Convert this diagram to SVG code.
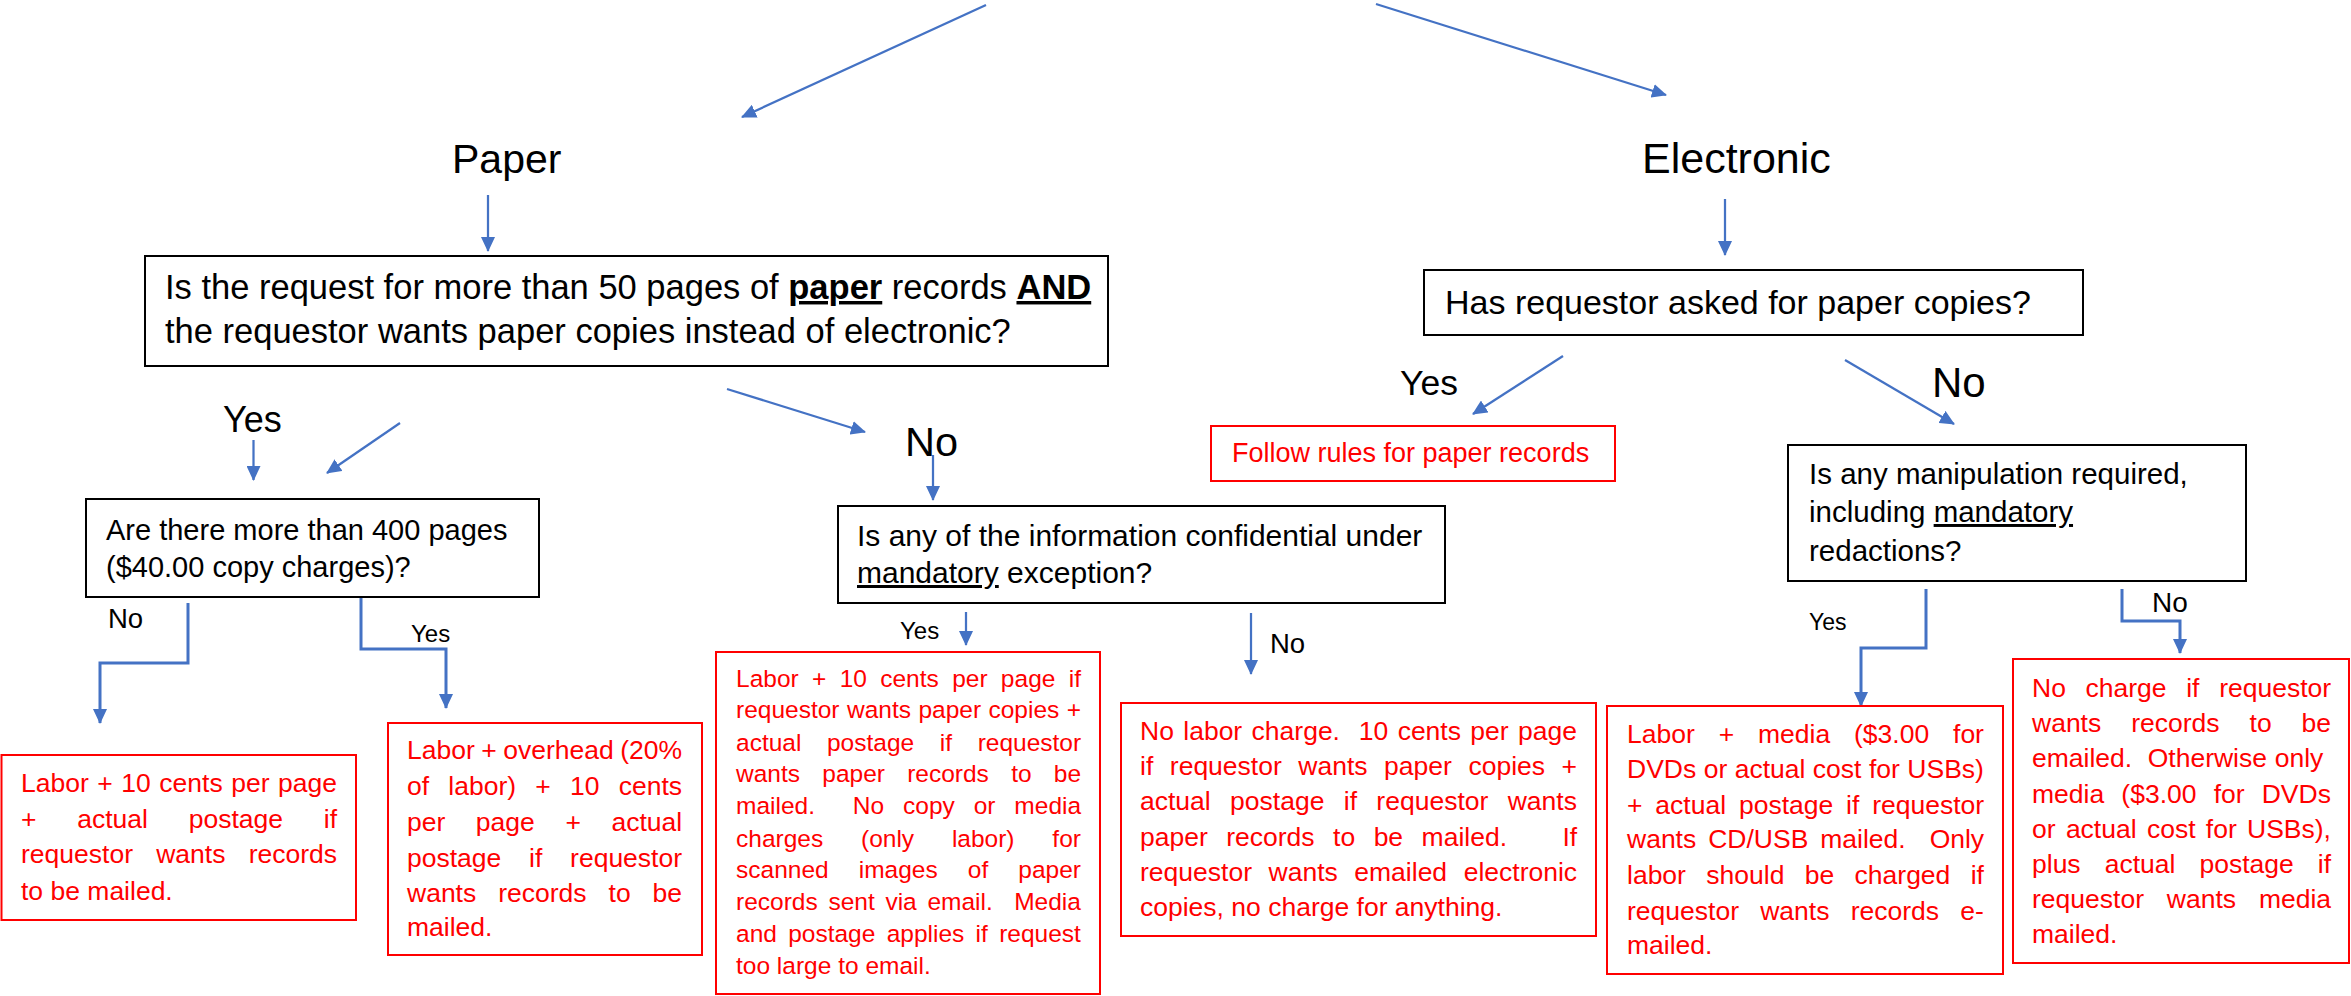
<svg xmlns="http://www.w3.org/2000/svg" width="2351" height="996" viewBox="0 0 2351 996">
<defs>
<marker id="ah" viewBox="0 0 15 14" markerWidth="15" markerHeight="14" refX="14" refY="7" orient="auto" markerUnits="userSpaceOnUse">
<path d="M0,0 L15,7 L0,14 z" fill="#4472C4"/>
</marker>
</defs>
<style>
text{font-family:"Liberation Sans",Arial,sans-serif}
.q{fill:#000}
.r{fill:#FF0000;font-size:26.5px}
.rs{fill:#FF0000;font-size:24.5px}
.lbl{fill:#000}
.bx{fill:#fff;stroke:#000;stroke-width:2}
.rb{fill:#fff;stroke:#FF0000;stroke-width:2}
.c{fill:none;stroke:#4472C4;stroke-width:2.25;marker-end:url(#ah)}
.e{stroke-width:3}
.u{text-decoration:underline}
.b{font-weight:bold}
</style>
<rect width="2351" height="996" fill="#fff"/>

<g id="connectors">
<path class="c" d="M986,5 L742,117"/>
<path class="c" d="M1376,4 L1666,95"/>
<path class="c" d="M488,195 V251"/>
<path class="c" d="M1725,199 V255"/>
<path class="c" d="M253.5,440 V480"/>
<path class="c" d="M400,423 L327,473"/>
<path class="c" d="M727,389 L865,432"/>
<path class="c" d="M933,455 V500"/>
<path class="c e" d="M188,603 V663 H100 V723"/>
<path class="c e" d="M361,590 V649 H446 V708"/>
<path class="c" d="M966,612 V645"/>
<path class="c" d="M1251,613 V674"/>
<path class="c" d="M1563,356 L1473,414"/>
<path class="c" d="M1845,360 L1954,424"/>
<path class="c e" d="M1926,589 V648 H1861 V706"/>
<path class="c e" d="M2122,589 V621 H2180 V653"/>
</g>

<g id="labels">
<text class="lbl" x="223" y="432" font-size="36">Yes</text>
<text class="lbl" x="905" y="456" font-size="41.5">No</text>
<text class="lbl" x="1400" y="395" font-size="35.5">Yes</text>
<text class="lbl" x="1932" y="397" font-size="42">No</text>
<text class="lbl" x="108" y="628" font-size="27.5">No</text>
<text class="lbl" x="411" y="642" font-size="24">Yes</text>
<text class="lbl" x="900" y="639" font-size="24">Yes</text>
<text class="lbl" x="1270" y="653" font-size="27.5">No</text>
<text class="lbl" x="1809" y="630" font-size="23">Yes</text>
<text class="lbl" x="2152" y="612" font-size="28">No</text>
</g>

<g id="paper">
<text class="q" x="452" y="173" font-size="41">Paper</text>
</g>

<g id="electronic">
<text class="q" x="1642" y="173" font-size="43">Electronic</text>
</g>

<g id="q-more-than-50">
<rect class="bx" x="145" y="256" width="963" height="110"/>
<text class="q" x="165" y="299" font-size="34.5">Is the request for more than 50 pages of <tspan class="b u">paper</tspan> records <tspan class="b u">AND</tspan></text>
<text class="q" x="165" y="343" font-size="34.5">the requestor wants paper copies instead of electronic?</text>
</g>

<g id="q-paper-copies">
<rect class="bx" x="1424" y="270" width="659" height="65"/>
<text class="q" x="1445" y="314" font-size="34">Has requestor asked for paper copies?</text>
</g>

<g id="follow-rules">
<rect class="rb" x="1211" y="426" width="404" height="55"/>
<text class="r" x="1232" y="462" font-size="27" style="font-size:27px">Follow rules for paper records</text>
</g>

<g id="q-400-pages">
<rect class="bx" x="86" y="499" width="453" height="98"/>
<text class="q" x="106" y="540" font-size="29">Are there more than 400 pages</text>
<text class="q" x="106" y="577" font-size="29">($40.00 copy charges)?</text>
</g>

<g id="q-confidential">
<rect class="bx" x="838" y="506" width="607" height="97"/>
<text class="q" x="857" y="546" font-size="30">Is any of the information confidential under</text>
<text class="q" x="857" y="583" font-size="30"><tspan class="u">mandatory</tspan> exception?</text>
</g>

<g id="q-manipulation">
<rect class="bx" x="1788" y="445" width="458" height="136"/>
<text class="q" x="1809" y="484" font-size="29.5">Is any manipulation required,</text>
<text class="q" x="1809" y="522" font-size="29.5">including <tspan class="u">mandatory</tspan></text>
<text class="q" x="1809" y="561" font-size="29.5">redactions?</text>
</g>

<g id="charge-a">
<rect class="rb" x="1.5" y="755" width="354.5" height="165"/>
<text class="r" x="21" y="792" word-spacing="1.18">Labor + 10 cents per page</text>
<text class="r" x="21" y="828" word-spacing="33.4">+ actual postage if</text>
<text class="r" x="21" y="863" word-spacing="15.9">requestor wants records</text>
<text class="r" x="21" y="900">to be mailed.</text>
</g>

<g id="charge-b">
<rect class="rb" x="388" y="723" width="314" height="232"/>
<text class="r" x="407" y="759" word-spacing="-0.9">Labor + overhead (20%</text>
<text class="r" x="407" y="795" word-spacing="11.85">of labor) + 10 cents</text>
<text class="r" x="407" y="831" word-spacing="23.2">per page + actual</text>
<text class="r" x="407" y="867" word-spacing="20.4">postage if requestor</text>
<text class="r" x="407" y="902" word-spacing="14.6">wants records to be</text>
<text class="r" x="407" y="936">mailed.</text>
</g>

<g id="charge-c">
<rect class="rb" x="716" y="652" width="384" height="342"/>
<text class="rs" x="736" y="687" word-spacing="6.53">Labor + 10 cents per page if</text>
<text class="rs" x="736" y="718" word-spacing="0.63">requestor wants paper copies +</text>
<text class="rs" x="736" y="751" word-spacing="18.8">actual postage if requestor</text>
<text class="rs" x="736" y="782" word-spacing="15.45">wants paper records to be</text>
<text class="rs" x="736" y="814" word-spacing="12.1">mailed.&#160; No copy or media</text>
<text class="rs" x="736" y="847" word-spacing="31">charges (only labor) for</text>
<text class="rs" x="736" y="878" word-spacing="23.3">scanned images of paper</text>
<text class="rs" x="736" y="910" word-spacing="3.9">records sent via email.&#160; Media</text>
<text class="rs" x="736" y="942" word-spacing="4.5">and postage applies if request</text>
<text class="rs" x="736" y="974">too large to email.</text>
</g>

<g id="charge-d">
<rect class="rb" x="1121" y="703" width="475" height="233"/>
<text class="r" x="1140" y="740" word-spacing="2.03">No labor charge.&#160; 10 cents per page</text>
<text class="r" x="1140" y="775" word-spacing="9.2">if requestor wants paper copies +</text>
<text class="r" x="1140" y="810" word-spacing="12">actual postage if requestor wants</text>
<text class="r" x="1140" y="846" word-spacing="11.1">paper records to be mailed.&#160;&#160; If</text>
<text class="r" x="1140" y="881" word-spacing="9.2">requestor wants emailed electronic</text>
<text class="r" x="1140" y="916">copies, no charge for anything.</text>
</g>

<g id="charge-e">
<rect class="rb" x="1607" y="706" width="396" height="268"/>
<text class="r" x="1627" y="743" word-spacing="16.5">Labor + media ($3.00 for</text>
<text class="r" x="1627" y="778" word-spacing="0.1">DVDs or actual cost for USBs)</text>
<text class="r" x="1627" y="814" word-spacing="5.5">+ actual postage if requestor</text>
<text class="r" x="1627" y="848" word-spacing="4.6">wants CD/USB mailed.&#160; Only</text>
<text class="r" x="1627" y="884" word-spacing="13">labor should be charged if</text>
<text class="r" x="1627" y="920" word-spacing="13.9">requestor wants records e-</text>
<text class="r" x="1627" y="954">mailed.</text>
</g>

<g id="charge-f">
<rect class="rb" x="2013" y="659" width="336" height="304"/>
<text class="r" x="2032" y="697" word-spacing="12.3">No charge if requestor</text>
<text class="r" x="2032" y="732" word-spacing="22.6">wants records to be</text>
<text class="r" x="2032" y="767" word-spacing="0.4">emailed.&#160; Otherwise only</text>
<text class="r" x="2032" y="803" word-spacing="9.8">media ($3.00 for DVDs</text>
<text class="r" x="2032" y="838" word-spacing="2.95">or actual cost for USBs),</text>
<text class="r" x="2032" y="873" word-spacing="16.7">plus actual postage if</text>
<text class="r" x="2032" y="908" word-spacing="15.5">requestor wants media</text>
<text class="r" x="2032" y="943">mailed.</text>
</g>
</svg>
